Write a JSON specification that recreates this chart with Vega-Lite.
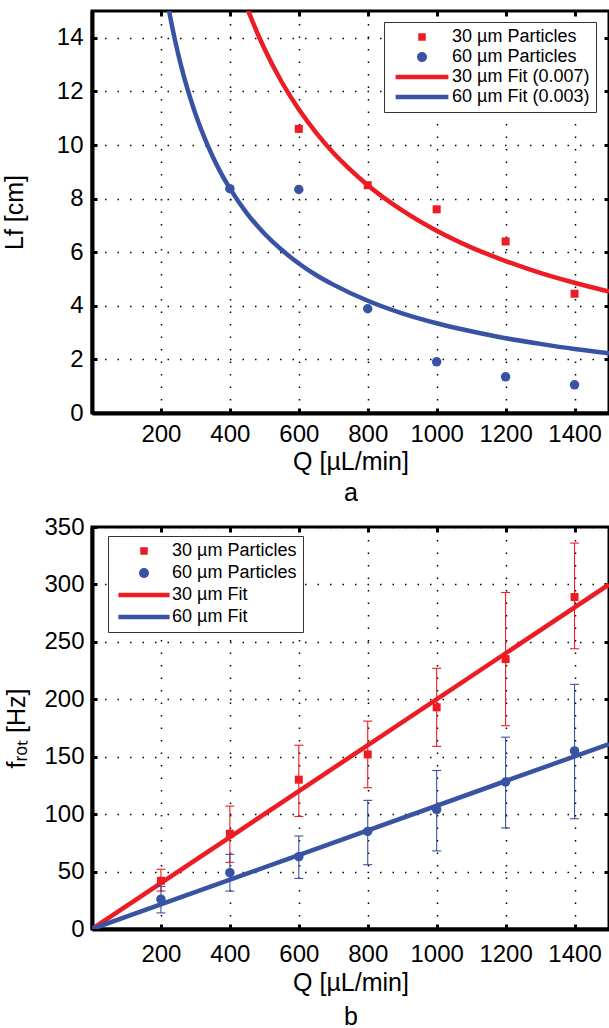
{
  "$schema": "https://vega.github.io/schema/vega-lite/v6.json",
  "padding": {"left": 0, "top": 8, "right": 0, "bottom": 0},
  "spacing": 6,
  "resolve": {"scale": {"color": "independent", "shape": "independent"}, "legend": {"color": "independent", "shape": "independent"}},
  "config": {
    "font": "Liberation Sans",
    "view": {"stroke": "black", "strokeWidth": 3},
    "axis": {
      "labelFont": "Liberation Sans", "labelFontSize": 24, "labelColor": "black",
      "titleFont": "Liberation Sans", "titleFontSize": 25, "titleFontWeight": "normal", "titleColor": "black",
      "domainColor": "black", "domainWidth": 4,
      "tickColor": "black", "tickWidth": 3, "tickSize": -5,
      "gridColor": "black", "gridDash": [1.5, 11], "gridWidth": 1.5, "gridOpacity": 1
    },
    "legend": {"cornerRadius": 0}
  },
  "datasets": {
    "aPts": [
      {"Q": 600, "L": 10.6, "series": "30 µm Particles"},
      {"Q": 800, "L": 8.5, "series": "30 µm Particles"},
      {"Q": 1000, "L": 7.6, "series": "30 µm Particles"},
      {"Q": 1200, "L": 6.4, "series": "30 µm Particles"},
      {"Q": 1400, "L": 4.45, "series": "30 µm Particles"},
      {"Q": 400, "L": 8.37, "series": "60 µm Particles"},
      {"Q": 600, "L": 8.34, "series": "60 µm Particles"},
      {"Q": 800, "L": 3.89, "series": "60 µm Particles"},
      {"Q": 1000, "L": 1.91, "series": "60 µm Particles"},
      {"Q": 1200, "L": 1.35, "series": "60 µm Particles"},
      {"Q": 1400, "L": 1.05, "series": "60 µm Particles"}
    ],
    "aFit": [
      {"Q": 445, "L": 15.28, "series": "30 µm Fit (0.007)"},
      {"Q": 480, "L": 14.17, "series": "30 µm Fit (0.007)"},
      {"Q": 500, "L": 13.6, "series": "30 µm Fit (0.007)"},
      {"Q": 550, "L": 12.36, "series": "30 µm Fit (0.007)"},
      {"Q": 600, "L": 11.33, "series": "30 µm Fit (0.007)"},
      {"Q": 650, "L": 10.46, "series": "30 µm Fit (0.007)"},
      {"Q": 700, "L": 9.71, "series": "30 µm Fit (0.007)"},
      {"Q": 750, "L": 9.07, "series": "30 µm Fit (0.007)"},
      {"Q": 800, "L": 8.5, "series": "30 µm Fit (0.007)"},
      {"Q": 900, "L": 7.56, "series": "30 µm Fit (0.007)"},
      {"Q": 1000, "L": 6.8, "series": "30 µm Fit (0.007)"},
      {"Q": 1100, "L": 6.18, "series": "30 µm Fit (0.007)"},
      {"Q": 1200, "L": 5.67, "series": "30 µm Fit (0.007)"},
      {"Q": 1300, "L": 5.23, "series": "30 µm Fit (0.007)"},
      {"Q": 1400, "L": 4.86, "series": "30 µm Fit (0.007)"},
      {"Q": 1500, "L": 4.53, "series": "30 µm Fit (0.007)"},
      {"Q": 218, "L": 15.37, "series": "60 µm Fit (0.003)"},
      {"Q": 240, "L": 13.96, "series": "60 µm Fit (0.003)"},
      {"Q": 260, "L": 12.88, "series": "60 µm Fit (0.003)"},
      {"Q": 280, "L": 11.96, "series": "60 µm Fit (0.003)"},
      {"Q": 300, "L": 11.17, "series": "60 µm Fit (0.003)"},
      {"Q": 325, "L": 10.31, "series": "60 µm Fit (0.003)"},
      {"Q": 350, "L": 9.57, "series": "60 µm Fit (0.003)"},
      {"Q": 375, "L": 8.93, "series": "60 µm Fit (0.003)"},
      {"Q": 400, "L": 8.38, "series": "60 µm Fit (0.003)"},
      {"Q": 450, "L": 7.44, "series": "60 µm Fit (0.003)"},
      {"Q": 500, "L": 6.7, "series": "60 µm Fit (0.003)"},
      {"Q": 550, "L": 6.09, "series": "60 µm Fit (0.003)"},
      {"Q": 600, "L": 5.58, "series": "60 µm Fit (0.003)"},
      {"Q": 650, "L": 5.15, "series": "60 µm Fit (0.003)"},
      {"Q": 700, "L": 4.79, "series": "60 µm Fit (0.003)"},
      {"Q": 800, "L": 4.19, "series": "60 µm Fit (0.003)"},
      {"Q": 900, "L": 3.72, "series": "60 µm Fit (0.003)"},
      {"Q": 1000, "L": 3.35, "series": "60 µm Fit (0.003)"},
      {"Q": 1100, "L": 3.05, "series": "60 µm Fit (0.003)"},
      {"Q": 1200, "L": 2.79, "series": "60 µm Fit (0.003)"},
      {"Q": 1300, "L": 2.58, "series": "60 µm Fit (0.003)"},
      {"Q": 1400, "L": 2.39, "series": "60 µm Fit (0.003)"},
      {"Q": 1500, "L": 2.23, "series": "60 µm Fit (0.003)"}
    ],
    "bPts": [
      {"Q": 200, "f": 42, "lo": 33, "hi": 52, "series": "30 µm Particles"},
      {"Q": 400, "f": 83, "lo": 58, "hi": 107, "series": "30 µm Particles"},
      {"Q": 600, "f": 130, "lo": 98, "hi": 160, "series": "30 µm Particles"},
      {"Q": 800, "f": 152, "lo": 123, "hi": 181, "series": "30 µm Particles"},
      {"Q": 1000, "f": 193, "lo": 159, "hi": 227, "series": "30 µm Particles"},
      {"Q": 1200, "f": 235, "lo": 177, "hi": 293, "series": "30 µm Particles"},
      {"Q": 1400, "f": 289, "lo": 244, "hi": 336, "series": "30 µm Particles"},
      {"Q": 200, "f": 26, "lo": 14, "hi": 37, "series": "60 µm Particles"},
      {"Q": 400, "f": 49, "lo": 33, "hi": 65, "series": "60 µm Particles"},
      {"Q": 600, "f": 63, "lo": 44, "hi": 81, "series": "60 µm Particles"},
      {"Q": 800, "f": 85, "lo": 56, "hi": 112, "series": "60 µm Particles"},
      {"Q": 1000, "f": 104, "lo": 68, "hi": 138, "series": "60 µm Particles"},
      {"Q": 1200, "f": 128, "lo": 88, "hi": 167, "series": "60 µm Particles"},
      {"Q": 1400, "f": 155, "lo": 96, "hi": 213, "series": "60 µm Particles"}
    ],
    "bFit": [
      {"Q": 0, "f": 0, "series": "30 µm Fit"},
      {"Q": 1500, "f": 300, "series": "30 µm Fit"},
      {"Q": 0, "f": 0, "series": "60 µm Fit"},
      {"Q": 1500, "f": 161, "series": "60 µm Fit"}
    ]
  },
  "vconcat": [
    {
      "width": 517,
      "height": 402,
      "layer": [
        {
          "data": {"name": "aFit"},
          "mark": {"type": "line", "strokeWidth": 4.5, "interpolate": "monotone", "clip": true},
          "encoding": {
            "x": {"field": "Q", "type": "quantitative", "scale": {"domain": [0, 1500], "nice": false, "zero": false},
                  "axis": {"orient": "top", "labels": false, "title": null, "grid": false, "domain": false, "values": [200, 400, 600, 800, 1000, 1200, 1400]}},
            "y": {"field": "L", "type": "quantitative", "scale": {"domain": [0, 15], "nice": false},
                  "axis": {"orient": "right", "labels": false, "title": null, "grid": false, "domain": false, "values": [2, 4, 6, 8, 10, 12, 14]}},
            "color": {"field": "series", "type": "nominal",
                      "scale": {"domain": ["30 µm Particles", "60 µm Particles", "30 µm Fit (0.007)", "60 µm Fit (0.003)"], "range": ["#ED1C24", "#3953A4", "#ED1C24", "#3953A4"]}}
          }
        },
        {
          "data": {"name": "aPts"},
          "transform": [{"filter": "datum.series === '30 µm Particles'"}],
          "mark": {"type": "square", "size": 64, "opacity": 1},
          "encoding": {
            "x": {"field": "Q", "type": "quantitative", "scale": {"domain": [0, 1500], "nice": false, "zero": false},
                  "axis": {"orient": "bottom", "format": "d", "title": ["Q [µL/min]", "a"], "titleLineHeight": 31, "titlePadding": 3, "labelPadding": 14, "grid": true, "values": [200, 400, 600, 800, 1000, 1200, 1400]}},
            "y": {"field": "L", "type": "quantitative", "scale": {"domain": [0, 15], "nice": false},
                  "axis": {"orient": "left", "title": "Lf [cm]", "titlePadding": 29, "labelPadding": 14, "grid": true, "values": [0, 2, 4, 6, 8, 10, 12, 14]}},
            "color": {"field": "series", "type": "nominal",
                      "scale": {"domain": ["30 µm Particles", "60 µm Particles", "30 µm Fit (0.007)", "60 µm Fit (0.003)"], "range": ["#ED1C24", "#3953A4", "#ED1C24", "#3953A4"]}}
          }
        },
        {
          "data": {"name": "aPts"},
          "transform": [{"filter": "datum.series === '60 µm Particles'"}],
          "mark": {"type": "circle", "size": 90, "opacity": 1},
          "encoding": {
            "x": {"field": "Q", "type": "quantitative", "scale": {"domain": [0, 1500], "nice": false, "zero": false}, "axis": null},
            "y": {"field": "L", "type": "quantitative", "scale": {"domain": [0, 15], "nice": false}, "axis": null},
            "color": {"field": "series", "type": "nominal",
                      "scale": {"domain": ["30 µm Particles", "60 µm Particles", "30 µm Fit (0.007)", "60 µm Fit (0.003)"], "range": ["#ED1C24", "#3953A4", "#ED1C24", "#3953A4"]}}
          }
        },
        {
          "data": {"name": "aPts"},
          "mark": {"type": "point", "filled": true, "size": 64, "opacity": 0},
          "encoding": {
            "x": {"field": "Q", "type": "quantitative", "scale": {"domain": [0, 1500], "nice": false, "zero": false}, "axis": null},
            "y": {"field": "L", "type": "quantitative", "scale": {"domain": [0, 15], "nice": false}, "axis": null},
            "color": {"field": "series", "type": "nominal",
                      "scale": {"domain": ["30 µm Particles", "60 µm Particles", "30 µm Fit (0.007)", "60 µm Fit (0.003)"], "range": ["#ED1C24", "#3953A4", "#ED1C24", "#3953A4"]},
                      "legend": {
                        "title": null, "orient": "none", "legendX": 292, "legendY": 11,
                        "padding": 6, "strokeColor": "#333333", "fillColor": "white",
                        "labelFont": "Liberation Sans", "labelFontSize": 18, "labelColor": "black", "labelOffset": 44, "labelLimit": 400,
                        "rowPadding": 2, "symbolSize": 64, "symbolOpacity": 1, "symbolStrokeWidth": 0
                      }},
            "shape": {"field": "series", "type": "nominal",
                      "scale": {"domain": ["30 µm Particles", "60 µm Particles", "30 µm Fit (0.007)", "60 µm Fit (0.003)"],
                                "range": ["M4.81,-0.94L6.69,-0.94L6.69,0.94L4.81,0.94Z", "M4.5,0A1.25,1.25,0,1,0,7,0A1.25,1.25,0,1,0,4.5,0Z", "M-0.85,-0.56L12.35,-0.56L12.35,0.56L-0.85,0.56Z", "M-0.85,-0.56L12.35,-0.56L12.35,0.56L-0.85,0.56Z"]},
                      "legend": null}
          }
        }
      ],
      "resolve": {"axis": {"x": "independent", "y": "independent"}}
    },
    {
      "width": 517,
      "height": 402,
      "layer": [
        {
          "data": {"name": "bFit"},
          "mark": {"type": "line", "strokeWidth": 4.5, "clip": true},
          "encoding": {
            "x": {"field": "Q", "type": "quantitative", "scale": {"domain": [0, 1500], "nice": false, "zero": false},
                  "axis": {"orient": "top", "labels": false, "title": null, "grid": false, "domain": false, "values": [200, 400, 600, 800, 1000, 1200, 1400]}},
            "y": {"field": "f", "type": "quantitative", "scale": {"domain": [0, 350], "nice": false},
                  "axis": {"orient": "right", "labels": false, "title": null, "grid": false, "domain": false, "values": [50, 100, 150, 200, 250, 300]}},
            "color": {"field": "series", "type": "nominal",
                      "scale": {"domain": ["30 µm Particles", "60 µm Particles", "30 µm Fit", "60 µm Fit"], "range": ["#ED1C24", "#3953A4", "#ED1C24", "#3953A4"]}}
          }
        },
        {
          "data": {"name": "bPts"},
          "mark": {"type": "errorbar", "ticks": true, "size": 9, "thickness": 1.1, "opacity": 1},
          "encoding": {
            "x": {"field": "Q", "type": "quantitative", "scale": {"domain": [0, 1500], "nice": false, "zero": false}, "axis": null},
            "y": {"field": "lo", "type": "quantitative", "scale": {"domain": [0, 350], "nice": false}, "axis": null},
            "y2": {"field": "hi"},
            "color": {"field": "series", "type": "nominal",
                      "scale": {"domain": ["30 µm Particles", "60 µm Particles", "30 µm Fit", "60 µm Fit"], "range": ["#ED1C24", "#3953A4", "#ED1C24", "#3953A4"]}}
          }
        },
        {
          "data": {"name": "bPts"},
          "transform": [{"filter": "datum.series === '30 µm Particles'"}],
          "mark": {"type": "square", "size": 64, "opacity": 1},
          "encoding": {
            "x": {"field": "Q", "type": "quantitative", "scale": {"domain": [0, 1500], "nice": false, "zero": false},
                  "axis": {"orient": "bottom", "format": "d", "title": ["Q [µL/min]", "b"], "titleLineHeight": 34, "titlePadding": 4, "labelPadding": 18, "grid": true, "values": [200, 400, 600, 800, 1000, 1200, 1400]}},
            "y": {"field": "f", "type": "quantitative", "scale": {"domain": [0, 350], "nice": false},
                  "axis": {"orient": "left", "title": "fᵣₒₜ [Hz]", "titlePadding": 14, "labelPadding": 13, "grid": true, "values": [0, 50, 100, 150, 200, 250, 300, 350]}},
            "color": {"field": "series", "type": "nominal",
                      "scale": {"domain": ["30 µm Particles", "60 µm Particles", "30 µm Fit", "60 µm Fit"], "range": ["#ED1C24", "#3953A4", "#ED1C24", "#3953A4"]}}
          }
        },
        {
          "data": {"name": "bPts"},
          "transform": [{"filter": "datum.series === '60 µm Particles'"}],
          "mark": {"type": "circle", "size": 90, "opacity": 1},
          "encoding": {
            "x": {"field": "Q", "type": "quantitative", "scale": {"domain": [0, 1500], "nice": false, "zero": false}, "axis": null},
            "y": {"field": "f", "type": "quantitative", "scale": {"domain": [0, 350], "nice": false}, "axis": null},
            "color": {"field": "series", "type": "nominal",
                      "scale": {"domain": ["30 µm Particles", "60 µm Particles", "30 µm Fit", "60 µm Fit"], "range": ["#ED1C24", "#3953A4", "#ED1C24", "#3953A4"]}}
          }
        },
        {
          "data": {"name": "bPts"},
          "mark": {"type": "point", "filled": true, "size": 64, "opacity": 0},
          "encoding": {
            "x": {"field": "Q", "type": "quantitative", "scale": {"domain": [0, 1500], "nice": false, "zero": false}, "axis": null},
            "y": {"field": "f", "type": "quantitative", "scale": {"domain": [0, 350], "nice": false}, "axis": null},
            "color": {"field": "series", "type": "nominal",
                      "scale": {"domain": ["30 µm Particles", "60 µm Particles", "30 µm Fit", "60 µm Fit"], "range": ["#ED1C24", "#3953A4", "#ED1C24", "#3953A4"]},
                      "legend": {
                        "title": null, "orient": "none", "legendX": 16, "legendY": 9,
                        "padding": 6, "strokeColor": "#333333", "fillColor": "white",
                        "labelFont": "Liberation Sans", "labelFontSize": 18, "labelColor": "black", "labelOffset": 40, "labelLimit": 400,
                        "rowPadding": 4, "symbolSize": 64, "symbolOpacity": 1, "symbolStrokeWidth": 0
                      }},
            "shape": {"field": "series", "type": "nominal",
                      "scale": {"domain": ["30 µm Particles", "60 µm Particles", "30 µm Fit", "60 µm Fit"],
                                "range": ["M4.31,-0.94L6.19,-0.94L6.19,0.94L4.31,0.94Z", "M4,0A1.25,1.25,0,1,0,6.5,0A1.25,1.25,0,1,0,4,0Z", "M-1.15,-0.56L11.65,-0.56L11.65,0.56L-1.15,0.56Z", "M-1.15,-0.56L11.65,-0.56L11.65,0.56L-1.15,0.56Z"]},
                      "legend": null}
          }
        }
      ],
      "resolve": {"axis": {"x": "independent", "y": "independent"}}
    }
  ]
}
